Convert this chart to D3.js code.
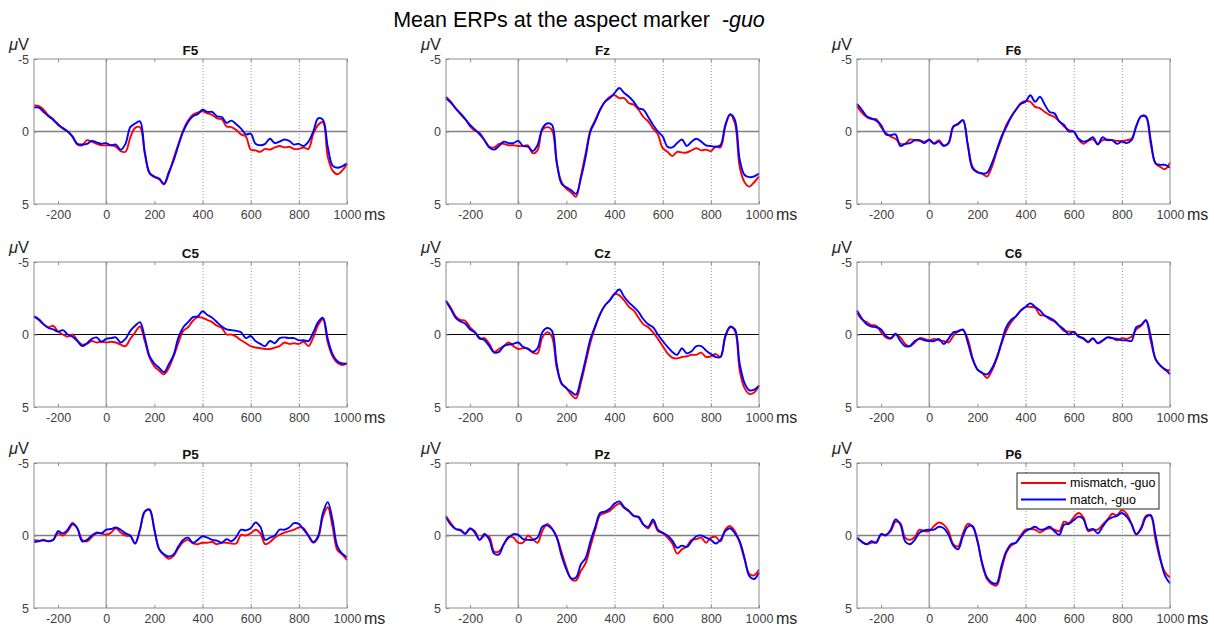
<!DOCTYPE html>
<html><head><meta charset="utf-8">
<script src="https://cdn.jsdelivr.net/npm/d3@7"></script>
<style>
html,body{margin:0;padding:0;background:#fff;}
svg{display:block;font-family:"Liberation Sans",Arial,Helvetica,sans-serif;}
</style></head>
<body><svg id="chart" width="1214" height="629"></svg>
<script>
// ---- data ----
const times = [-300,-280,-260,-240,-220,-200,-180,-160,-140,-120,-100,-80,-60,-40,-20,
  0,20,40,60,80,100,120,140,160,180,200,220,240,260,280,300,320,340,360,380,400,420,440,460,480,
  500,520,540,560,580,600,620,640,660,680,700,720,740,760,780,800,820,840,860,880,900,920,940,960,980,1000];
const xTicks = [-200,0,200,400,600,800,1000];
const yTicks = [-5,0,5];
const gridTimes = [400,600,800];
const channels = ["F5","Fz","F6","C5","Cz","C6","P5","Pz","P6"];
const seriesNames = ["mismatch, -guo","match, -guo"];

const F5_mismatch = [-1.8,-1.75,-1.5,-1.1,-0.85,-0.45,-0.25,0,0.35,0.9,0.95,0.6,0.7,0.85,0.95,
  0.95,0.95,1.05,1.35,1.4, 0.4,-0.25,-0.3,1.5,2.9,3.15,3.3,3.65,2.9,1.85,
  0.85,-0.1,-0.75,-1.15,-1.3,-1.4,-1.25,-1.15,-0.9,-0.85, -0.35,-0.3,-0.1,0.2,0.35,1.25,1.3,1.4,1.2,1.25,
  1.1,1.0,1.1,1.05,1.2,1.2,1.1,1.2,0.15,-0.45, -0.65,1.75,2.7,2.95,2.7,2.25];
const F5_match = [-1.65,-1.65,-1.35,-1.05,-0.8,-0.5,-0.2,0,0.35,0.85,0.9,0.85,0.65,0.75,0.85,
  0.8,0.95,0.9,1.25,0.85, -0.3,-0.55,-0.7,1.4,2.85,3.1,3.25,3.6,2.8,2.0,
  0.95,0,-0.65,-1.05,-1.2,-1.5,-1.35,-1.35,-1.05,-1.0, -0.6,-0.75,-0.5,-0.2,0.2,0.15,0.85,0.95,0.85,0.5,
  0.8,0.7,0.55,0.65,0.9,0.85,1.0,0.7,0,-0.9, -0.8,1.05,2.35,2.5,2.4,2.2];
const Fz_mismatch = [-2.4,-2.05,-1.6,-1.2,-0.85,-0.35,-0.05,0.1,0.6,1.05,1.1,0.85,0.85,0.95,0.95,
  1.0,1.0,0.95,1.5,1.3, -0.1,-0.3,-0.1,2.2,3.5,3.95,4.2,4.5,3.1,1.5,
  -0.1,-0.8,-1.5,-2.05,-2.4,-2.5,-2.3,-2.3,-1.95,-1.85, -1.5,-1.0,-0.7,-0.2,0.2,1.15,1.4,1.7,1.4,1.45,
  1.45,1.3,1.15,1.3,1.25,1.35,1.05,1.1,-0.35,-1.15, -0.55,2.45,3.5,3.8,3.5,3.1];
const Fz_match = [-2.3,-2.0,-1.6,-1.25,-0.85,-0.45,-0.15,0.2,0.6,1.1,1.25,1.0,0.7,0.8,0.8,
  0.65,1.0,1.05,1.35,0.95, -0.2,-0.55,-0.45,2.1,3.6,3.85,4.05,4.3,3.25,1.75,
  0,-0.7,-1.5,-2.05,-2.3,-2.65,-3.0,-2.65,-2.4,-2.05, -1.6,-1.5,-1.0,-0.45,0,0.35,1.05,1.1,0.8,0.55,
  1.0,0.7,0.5,0.7,0.95,1.0,1.05,0.95,-0.45,-1.2, -0.8,1.95,3.0,3.15,3.1,2.9];
const F6_mismatch = [-1.75,-1.3,-1.0,-0.85,-0.85,-0.3,0.1,0.35,0.5,0.85,0.85,0.55,0.6,0.65,0.7,
  0.6,0.8,0.6,0.95,0.8, -0.3,-0.55,-0.75,0.85,2.45,2.8,2.9,3.1,2.45,1.4,
  0.5,-0.45,-1.0,-1.5,-1.95,-2.1,-2.05,-1.7,-1.6,-1.35, -1.15,-1.0,-0.7,-0.35,-0.1,0,0.55,0.85,0.65,0.55,
  0.85,0.6,0.55,0.6,0.65,0.65,0.6,0.5,-0.4,-1.05, -1.0,0.85,2.2,2.45,2.6,2.15];
const F6_match = [-1.9,-1.5,-1.05,-0.9,-0.75,-0.45,0.2,0.25,0.2,1.0,0.85,0.8,0.6,0.6,0.8,
  0.55,0.85,0.7,1.0,0.8, -0.35,-0.5,-0.8,0.95,2.55,2.8,2.9,2.85,2.2,1.3,
  0.35,-0.3,-1.0,-1.5,-1.9,-2.05,-2.5,-2.05,-2.4,-1.85, -1.35,-1.25,-0.7,-0.45,0,0,0.5,0.7,0.6,0.4,
  0.9,0.4,0.6,0.6,0.85,0.7,0.8,0.6,-0.35,-1.05, -1.05,0.6,2.2,2.3,2.3,2.5];
const C5_mismatch = [-1.25,-1.0,-0.7,-0.5,-0.6,-0.2,0,0.15,0,0.4,0.7,0.65,0.45,0.55,0.5,
  0.55,0.5,0.55,0.7,0.8, 0.3,-0.15,-0.55,0.45,1.6,2.2,2.5,2.75,2.3,1.5,
  0.55,-0.25,-0.5,-0.95,-1.2,-1.15,-1.0,-0.85,-0.6,-0.45, 0,0,0.15,0.4,0.6,0.8,0.9,0.95,1.0,1.0,
  0.9,0.8,0.55,0.65,0.6,0.65,0.5,0.8,0.2,-0.65, -1.05,0.55,1.5,1.95,2.1,2.0];
const C5_match = [-1.25,-1.05,-0.7,-0.45,-0.35,-0.2,-0.3,0,0.15,0.45,0.8,0.6,0.3,0.2,0.5,
  0.3,0.25,0.2,0.55,0.3, -0.25,-0.6,-0.85,0.2,1.5,2.0,2.3,2.6,2.05,1.4,
  0.2,-0.5,-0.85,-1.2,-1.25,-1.6,-1.35,-1.15,-0.85,-0.55, -0.35,-0.3,-0.25,-0.15,0.25,0.1,0.45,0.65,0.8,0.45,
  0.6,0.25,0.2,0.25,0.25,0.4,0.4,0.45,-0.15,-0.85, -1.15,0.3,1.35,1.85,2.0,2.0];
const Cz_mismatch = [-2.35,-1.85,-1.25,-1.0,-0.95,-0.5,-0.15,0.3,0.25,0.65,1.2,1.0,0.8,0.55,0.8,
  1.0,0.95,0.95,1.25,1.3, 0.2,-0.15,0.15,2.3,3.35,3.7,4.15,4.4,3.35,1.95,
  0.55,-0.5,-1.4,-2.0,-2.35,-2.8,-2.7,-2.35,-1.9,-1.65, -1.15,-0.7,-0.5,-0.15,0.3,0.8,1.3,1.6,1.65,1.55,
  1.5,1.4,1.4,1.25,1.55,1.5,1.35,1.55,0.2,-0.55, -0.25,2.5,3.7,4.1,4.0,3.5];
const Cz_match = [-2.3,-1.75,-1.15,-0.9,-0.75,-0.35,-0.15,0.25,0.4,0.8,1.25,1.2,0.8,0.7,0.65,
  0.55,0.85,1.0,1.2,0.95, -0.15,-0.45,-0.25,2.05,3.4,3.7,3.95,4.15,3.1,1.7,
  0.3,-0.6,-1.4,-2.0,-2.35,-2.8,-3.1,-2.6,-2.2,-1.9, -1.55,-1.05,-0.7,-0.5,0,0.45,0.85,1.2,1.4,0.95,
  1.3,1.15,0.8,0.8,1.1,1.35,1.55,1.55,0.1,-0.5, -0.35,2.05,3.35,3.85,3.8,3.55];
const C6_mismatch = [-1.5,-1.05,-0.85,-0.65,-0.6,-0.15,0.2,0.3,0,0.2,0.65,0.8,0.55,0.25,0.3,
  0.4,0.3,0.4,0.45,0.55, 0.1,-0.25,-0.3,0.3,1.6,2.4,2.65,3.0,2.5,1.7,
  0.65,-0.25,-0.85,-1.25,-1.65,-1.9,-1.9,-1.85,-1.35,-1.3, -1.05,-0.9,-0.6,-0.25,-0.2,-0.15,0.1,0.3,0.55,0.3,
  0.6,0.45,0.2,0.25,0.4,0.25,0.3,0.15,-0.35,-0.6, -0.95,0.45,1.7,2.15,2.45,2.45];
const C6_match = [-1.65,-1.1,-0.7,-0.55,-0.5,-0.35,0.1,0.25,-0.05,0.45,0.8,0.8,0.45,0.3,0.4,
  0.45,0.45,0.3,0.65,0.3, -0.15,-0.2,-0.35,0.55,1.7,2.4,2.65,2.75,2.35,1.6,
  0.55,-0.5,-1.0,-1.25,-1.65,-1.9,-2.15,-1.9,-1.65,-1.3, -1.15,-0.95,-0.6,-0.35,0,-0.2,0.15,0.25,0.5,0.25,
  0.6,0.4,0.2,0.25,0.3,0.4,0.4,0.45,-0.5,-0.65, -1.0,0.15,1.7,2.15,2.4,2.75];
const P5_mismatch = [0.3,0.35,0.35,0.4,0.3,-0.15,0,-0.3,-0.75,-0.5,0.3,0.4,0.1,-0.15,-0.15,
  -0.05,-0.2,-0.5,-0.2,0, 0.05,0.55,-0.4,-1.65,-1.75,-0.4,0.95,1.35,1.6,1.4,
  0.85,0.45,0.3,0.55,0.6,0.5,0.5,0.45,0.6,0.5, 0.5,0.55,0.55,-0.05,0,-0.15,-0.4,-0.15,0.6,0.45,
  0.15,-0.05,-0.2,-0.3,-0.4,-0.55,-0.5,0.05,0.5,0.15, -1.3,-1.95,-0.6,1.0,1.3,1.7];
const P5_match = [0.45,0.4,0.3,0.4,0.3,-0.3,-0.15,-0.4,-0.85,-0.5,0.4,0.3,0,-0.2,-0.15,
  -0.4,-0.45,-0.55,-0.4,-0.15, 0,0.55,-0.4,-1.65,-1.8,-0.4,0.95,1.3,1.45,1.3,
  0.75,0.3,0.15,0.5,0.3,0.05,0.15,0.3,0.35,0.5, 0.25,0.4,0.1,-0.4,-0.35,-0.5,-0.9,-0.6,0.3,0.15,
  0,-0.4,-0.4,-0.55,-0.85,-0.8,-0.4,0,0.45,0.05, -1.55,-2.3,-1.05,0.75,1.25,1.5];
const Pz_mismatch = [-1.35,-0.85,-0.45,-0.4,-0.15,-0.45,-0.3,0.3,0,0.1,1.1,1.1,0.6,0.1,0.15,
  0.5,0.5,0,0.25,0.5, -0.3,-0.8,-0.5,0.1,1.15,2.2,3.0,3.1,2.45,1.9,
  0.75,-0.4,-1.4,-1.55,-1.7,-2.0,-2.2,-1.9,-1.65,-1.35, -1.3,-0.75,-0.5,-0.95,-0.3,-0.15,0.15,0.55,1.25,0.95,
  0.75,0.3,0.25,0.15,0.5,0.15,0.1,0.4,-0.4,-0.65, -0.3,0.5,1.65,2.65,2.75,2.35];
const Pz_match = [-1.25,-0.75,-0.45,-0.35,-0.1,-0.5,-0.2,0.3,-0.1,0.3,1.25,1.3,0.6,0.15,-0.1,
  -0.05,0.25,0.3,0.3,0.15, -0.6,-0.7,-0.45,0.15,1.4,2.35,2.95,2.9,2.0,1.55,
  0.4,-0.6,-1.55,-1.65,-1.85,-2.2,-2.35,-1.95,-1.7,-1.35, -1.25,-0.75,-0.6,-1.1,-0.4,-0.2,0,0.35,0.85,0.7,
  0.8,0.4,0.05,0,0.15,0.3,0.55,0.3,-0.3,-0.5, -0.15,0.4,1.55,2.8,3.0,2.55];
const P6_mismatch = [0.15,0.4,0.6,0.5,0.45,-0.05,-0.05,-0.3,-0.95,-0.85,0.15,0.3,0.1,-0.4,-0.3,
  -0.3,-0.65,-0.9,-0.75,-0.3, 0.6,0.75,-0.15,-0.8,-0.6,0.3,2.0,3.0,3.35,3.45,
  2.35,1.2,0.7,0.5,0,-0.4,-0.45,-0.4,-0.2,-0.4, -0.5,-0.4,-0.3,-0.95,-0.85,-1.25,-1.55,-1.25,-0.3,-0.4,
  -0.4,-0.75,-1.1,-1.5,-1.4,-1.75,-1.5,-0.8,-0.05,-0.55, -1.35,-1.35,0.3,1.7,2.55,2.9];
const P6_match = [0.15,0.45,0.6,0.4,0.5,-0.1,0,-0.4,-1.1,-0.75,0.4,0.6,0.3,-0.2,-0.35,
  -0.4,-0.4,-0.6,-0.5,-0.05, 0.7,0.95,0.05,-0.6,-0.65,0.4,1.9,2.9,3.25,3.3,
  2.1,1.1,0.6,0.5,0.1,-0.3,-0.45,-0.6,-0.4,-0.45, -0.6,-0.3,-0.05,-0.75,-0.8,-1.05,-1.3,-1.15,-0.4,-0.45,
  -0.15,-0.6,-1.05,-1.25,-1.35,-1.55,-1.3,-0.8,-0.1,-0.45, -1.25,-1.4,0,1.6,2.8,3.3];

const panelData = {
  F5:[F5_mismatch,F5_match], Fz:[Fz_mismatch,Fz_match], F6:[F6_mismatch,F6_match],
  C5:[C5_mismatch,C5_match], Cz:[Cz_mismatch,Cz_match], C6:[C6_mismatch,C6_match],
  P5:[P5_mismatch,P5_match], Pz:[Pz_mismatch,Pz_match], P6:[P6_mismatch,P6_match]
};

// ---- layout / style ----
const colors = ["#ff0000","#0000ff"];
const colX = [34, 446, 857];
const rowY = [59, 262, 463];
const pw = 313, ph = 145;
const zeroLineColor = ["#7f7f7f","#000000","#7f7f7f"];
const frameColor = "#8c8c8c";
const tickTextColor = "#404040";

const svg = d3.select("#chart");
svg.append("rect").attr("width",1214).attr("height",629).attr("fill","#fff");

// Title
const title = svg.append("text").attr("x",579).attr("y",27).attr("text-anchor","middle")
  .attr("font-size",21.5).attr("fill","#000").style("white-space","pre");
title.append("tspan").text("Mean ERPs at the aspect marker  ");
title.append("tspan").attr("font-style","italic").text("-guo");

channels.forEach((ch, i) => {
  const r = Math.floor(i/3), c = i%3;
  const g = svg.append("g").attr("transform",`translate(${colX[c]},${rowY[r]})`);
  const x = d3.scaleLinear().domain([-300,1000]).range([0,pw]);
  const y = d3.scaleLinear().domain([-5,5]).range([0,ph]);

  // dotted grid
  g.selectAll(".grid").data(gridTimes).join("line")
    .attr("x1",d=>x(d)+0.5).attr("x2",d=>x(d)+0.5).attr("y1",0).attr("y2",ph)
    .attr("stroke","#9a9a9a").attr("stroke-width",1).attr("stroke-dasharray","1,2");
  // zero time line
  g.append("line").attr("x1",x(0)).attr("x2",x(0)).attr("y1",0).attr("y2",ph)
    .attr("stroke","#a8a8a8").attr("stroke-width",1.5);
  // zero amplitude line
  g.append("line").attr("x1",0).attr("x2",pw).attr("y1",y(0)).attr("y2",y(0))
    .attr("stroke",zeroLineColor[r]).attr("stroke-width",r===1?1:1.5);

  // axes
  const xa = g.append("g").attr("transform",`translate(0,${ph})`)
    .call(d3.axisBottom(x).tickValues(xTicks).tickFormat(d=>String(d)).tickSizeInner(-3).tickSizeOuter(0).tickPadding(6));
  const xt = g.append("g")
    .call(d3.axisTop(x).tickValues(xTicks).tickFormat("").tickSizeInner(-3).tickSizeOuter(0));
  const ya = g.append("g")
    .call(d3.axisLeft(y).tickValues(yTicks).tickFormat(d=>String(d)).tickSizeInner(-3).tickSizeOuter(0).tickPadding(5));
  [xa,xt,ya].forEach(a=>{
    a.select(".domain").remove();
    a.selectAll("line").attr("stroke",frameColor);
    a.selectAll("text").attr("fill",tickTextColor).attr("font-size",12.5)
      .attr("font-family",'"Liberation Sans",Arial,sans-serif');
  });

  // data lines
  const line = d3.line().x((d,k)=>x(times[k])).y(d=>y(d)).curve(d3.curveCatmullRom.alpha(0.5));
  panelData[ch].forEach((vals,s)=>{
    g.append("path").datum(vals).attr("d",line).attr("fill","none")
      .attr("stroke",colors[s]).attr("stroke-width",1.9).attr("stroke-linejoin","round");
  });

  // frame
  g.append("rect").attr("x",0).attr("y",0).attr("width",pw).attr("height",ph)
    .attr("fill","none").attr("stroke",frameColor).attr("stroke-width",1);

  // panel title
  g.append("text").attr("x",pw/2).attr("y",-4).attr("text-anchor","middle")
    .attr("font-size",13.5).attr("font-weight","bold").attr("fill","#111").text(ch);
  // unit label
  const uv = g.append("text").attr("x",-25).attr("y",-9).attr("font-size",16.5).attr("fill","#262626");
  uv.append("tspan").attr("font-style","italic").text("μ");
  uv.append("tspan").text("V");
  // ms label
  g.append("text").attr("x",pw+17).attr("y",ph+15.5).attr("font-size",16).attr("fill","#262626").text("ms");

  // legend
  if (ch === "P6") {
    const lg = g.append("g").attr("transform","translate(160,10)");
    lg.append("rect").attr("width",142).attr("height",36).attr("fill","#fff")
      .attr("stroke","#262626").attr("stroke-width",1);
    seriesNames.forEach((nm,s)=>{
      const yy = 10 + s*16.5;
      lg.append("line").attr("x1",4).attr("x2",49).attr("y1",yy).attr("y2",yy)
        .attr("stroke",colors[s]).attr("stroke-width",1.9);
      lg.append("text").attr("x",53).attr("y",yy+4.3).attr("font-size",12.5).attr("fill","#000").text(nm);
    });
  }
});
</script></body></html>
